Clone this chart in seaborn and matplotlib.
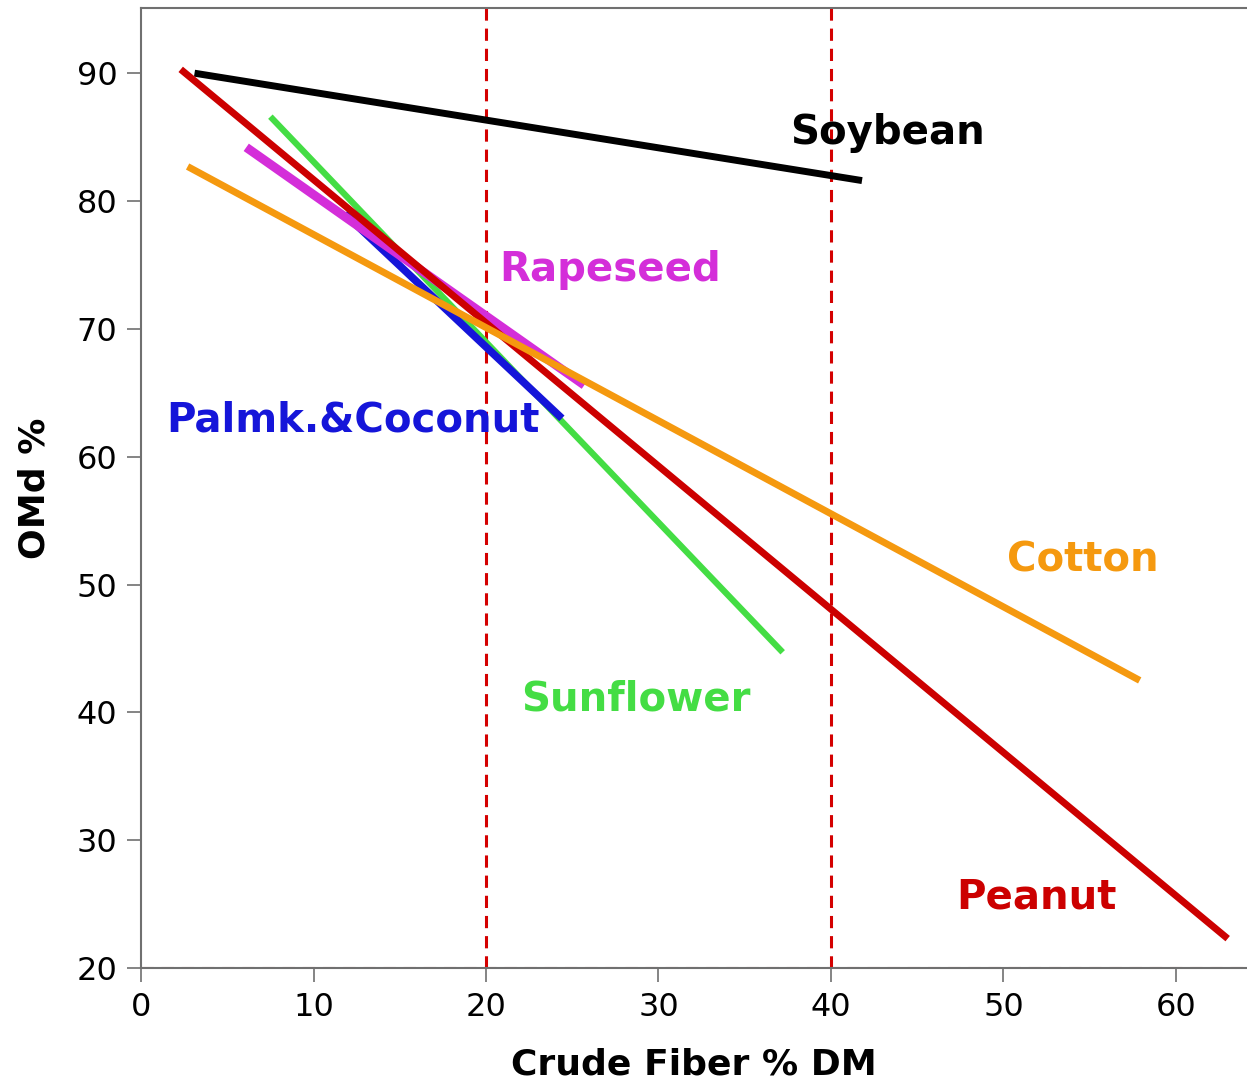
import matplotlib
matplotlib.use("Agg")
import matplotlib.pyplot as plt
import seaborn as sns
import pandas as pd

# Regression lines of organic matter digestibility vs. crude fiber (start / end points)
soybean_x = [3.1, 41.8]
soybean_y = [90.0, 81.6]
sunflower_x = [7.5, 37.2]
sunflower_y = [86.6, 44.7]
palm_x = [11.8, 24.4]
palm_y = [79.0, 63.0]
rapeseed_x = [6.1, 25.7]
rapeseed_y = [84.2, 65.6]
peanut_x = [2.3, 63.0]
peanut_y = [90.3, 22.3]
cotton_x = [2.7, 57.9]
cotton_y = [82.7, 42.5]

series_names = ["Soybean", "Sunflower", "Palmk.&Coconut", "Rapeseed", "Peanut", "Cotton"]
series_x = [soybean_x, sunflower_x, palm_x, rapeseed_x, peanut_x, cotton_x]
series_y = [soybean_y, sunflower_y, palm_y, rapeseed_y, peanut_y, cotton_y]
colors = ["#000000", "#44DD44", "#1515D9", "#D42ED9", "#CC0000", "#F5990F"]
widths = [5.0, 4.5, 5.5, 6.5, 5.0, 5.0]

# Label anchor points (centre of text)
label_x = [43.3, 28.7, 12.3, 27.2, 51.9, 54.6]
label_y = [85.3, 41.0, 62.8, 74.6, 25.5, 51.9]

x_ticks = [0, 10, 20, 30, 40, 50, 60]
y_ticks = [20, 30, 40, 50, 60, 70, 80, 90]
ref_x = [20, 40]
ref_y = 20

sns.set_theme(style="white")
plt.rcParams["font.family"] = ["DejaVu Sans"]

fig = plt.figure(figsize=(12.47, 10.81), dpi=100)
ax = fig.add_axes([0.1131, 0.1045, 0.8869, 0.8881])

frames = []
for name, xs, ys in zip(series_names, series_x, series_y):
    frames.append(pd.DataFrame({"crude_fiber": xs, "omd": ys, "feed": name}))
df = pd.concat(frames, ignore_index=True)

for name, color, lw in zip(series_names, colors, widths):
    sub = df[df["feed"] == name]
    sns.lineplot(data=sub, x="crude_fiber", y="omd", color=color, linewidth=lw,
                 ax=ax, solid_capstyle="butt", sort=False)

# Reference lines
dash_kw = dict(color="#D40000", linewidth=2.2, linestyle=(0, (4, 2.6)), zorder=1)
for xv in ref_x:
    ax.axvline(xv, **dash_kw)
ax.axhline(ref_y, **dash_kw)

for name, color, lx, ly in zip(series_names, colors, label_x, label_y):
    ax.text(lx, ly, name, color=color, fontsize=29, fontweight="bold",
            ha="center", va="center")

ax.set_xlim(0, 64.12)
ax.set_ylim(20, 95.1)
ax.set_xticks(x_ticks)
ax.set_yticks(y_ticks)
ax.tick_params(axis="both", direction="out", length=10, width=1.2, color="#707070",
               labelsize=23, labelcolor="black", bottom=True, left=True, pad=7)

ax.set_xlabel("Crude Fiber % DM", fontsize=26, fontweight="bold", labelpad=18,
              color="black")
ax.set_ylabel("OMd %", fontsize=26, fontweight="bold", labelpad=18, color="black")

for side in ["left", "top", "bottom"]:
    ax.spines[side].set_visible(True)
    ax.spines[side].set_color("#707070")
    ax.spines[side].set_linewidth(1.5)
ax.spines["right"].set_visible(False)

fig.savefig("out.png", dpi=100)
